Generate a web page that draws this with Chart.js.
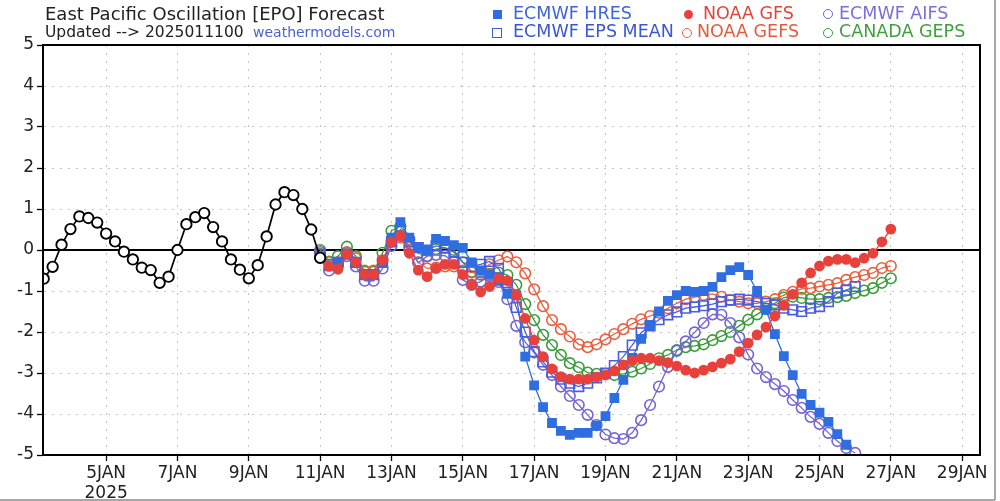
<!DOCTYPE html>
<html>
<head>
<meta charset="utf-8">
<script src="https://cdn.jsdelivr.net/npm/chart.js@4.4.1/dist/chart.umd.min.js"></script>
<style>
  body { margin: 0; background: #fff; font-family: "DejaVu Sans", sans-serif; }
  #wrap { position: relative; width: 1000px; height: 501px; overflow: hidden; }
  canvas { position: absolute; left: 0; top: 0; }
  .txt { position: absolute; white-space: nowrap; font-size: 17.5px; line-height: 20px; }
  .mk { position: absolute; box-sizing: border-box; }
</style>
</head>
<body>
<div id="wrap">
  <canvas id="epo" width="1000" height="501"></canvas>

  <div class="txt" style="left:45px; top:4px; font-size:18px; color:#222;">East Pacific Oscillation [EPO] Forecast</div>
  <div class="txt" style="left:45px; top:22px; font-size:15.5px; color:#222;">Updated --&gt; 2025011100 <span style="color:#4b5fd6; font-size:14px;">&nbsp;weathermodels.com</span></div>

  <!-- legend -->
  <div class="mk" style="left:493px; top:10px; width:9px; height:9px; background:#2f6ee0;"></div>
  <div class="txt" style="left:513px; top:3px; color:#3f65dc;">ECMWF HRES</div>
  <div class="mk" style="left:492px; top:28px; width:10px; height:10px; border:1.7px solid #4558de;"></div>
  <div class="txt" style="left:513px; top:21px; color:#3b57d4;">ECMWF EPS MEAN</div>

  <div class="mk" style="left:684px; top:10px; width:9px; height:9px; border-radius:50%; background:#e8413c;"></div>
  <div class="txt" style="left:703px; top:3px; color:#e0443a;">NOAA GFS</div>
  <div class="mk" style="left:682px; top:28px; width:10px; height:10px; border-radius:50%; border:1.7px solid #e8603f;"></div>
  <div class="txt" style="left:697px; top:21px; color:#e55a3c;">NOAA GEFS</div>

  <div class="mk" style="left:823px; top:9px; width:10px; height:10px; border-radius:50%; border:1.7px solid #7464d4;"></div>
  <div class="txt" style="left:839px; top:3px; color:#7b6fd6;">ECMWF AIFS</div>
  <div class="mk" style="left:823px; top:28px; width:10px; height:10px; border-radius:50%; border:1.7px solid #3b9b3b;"></div>
  <div class="txt" style="left:839px; top:21px; color:#3f9f3f;">CANADA GEPS</div>
</div>

<script>
// time axis: days of January 2025, one point every 6 hours
const step = 0.25;
const obsStart = 3.25;
const fcstStart = 11.0;
const xTicks = [5, 7, 9, 11, 13, 15, 17, 19, 21, 23, 25, 27, 29];
const yTicks = [-5, -4, -3, -2, -1, 0, 1, 2, 3, 4, 5];

// observed EPO (Jan 3 06z - Jan 11 00z)
const observed = [-0.70, -0.41, 0.13, 0.51, 0.82, 0.78, 0.67, 0.40, 0.21, -0.04, -0.23, -0.43,
  -0.49, -0.80, -0.65, 0.00, 0.63, 0.80, 0.90, 0.56, 0.21, -0.23, -0.48, -0.69,
  -0.37, 0.33, 1.11, 1.41, 1.34, 1.00, 0.50, -0.19];

// forecasts, from Jan 11 00z
const ecmwfHres = [-0.15, -0.4, -0.3, -0.1, -0.3, -0.6, -0.6, -0.3, 0.3, 0.68, 0.3, 0.05,
  0.0, 0.27, 0.22, 0.12, 0.05, -0.3, -0.5, -0.6, -0.75, -1.07, -1.1, -2.6,
  -3.3, -3.83, -4.22, -4.41, -4.51, -4.46, -4.46, -4.29, -4.05, -3.61, -3.17, -2.63,
  -2.17, -1.83, -1.5, -1.24, -1.1, -1.0, -1.02, -1.0, -0.9, -0.66, -0.49, -0.42,
  -0.61, -1.0, -1.46, -2.05, -2.59, -3.05, -3.51, -3.78, -3.97, -4.19, -4.49, -4.75];

const ecmwfEpsMean = [-0.1, -0.35, -0.3, -0.1, -0.3, -0.6, -0.6, -0.3, 0.2, 0.5, 0.2, 0.06,
  0.0, 0.1, 0.05, -0.05, -0.3, -0.4, -0.35, -0.28, -0.45, -0.8, -1.4, -2.0,
  -2.48, -2.73, -2.98, -3.15, -3.25, -3.33, -3.25, -3.12, -3.0, -2.82, -2.6, -2.32,
  -2.02, -1.85, -1.7, -1.58, -1.51, -1.42, -1.39, -1.36, -1.32, -1.26, -1.22, -1.2,
  -1.22, -1.26, -1.3, -1.34, -1.42, -1.46, -1.5, -1.42, -1.38, -1.26, -1.05, -0.98, -0.89];

const noaaGfs = [-0.2, -0.4, -0.47, -0.1, -0.3, -0.6, -0.6, -0.25, 0.2, 0.35, -0.08, -0.49,
  -0.65, -0.45, -0.35, -0.35, -0.6, -0.85, -1.02, -0.89, -0.7, -0.75, -1.1, -1.67,
  -2.2, -2.6, -2.9, -3.09, -3.15, -3.15, -3.15, -3.1, -3.05, -2.95, -2.8, -2.7,
  -2.64, -2.64, -2.7, -2.75, -2.83, -2.93, -3.0, -2.93, -2.85, -2.76, -2.66, -2.48,
  -2.27, -2.07, -1.88, -1.61, -1.35, -1.08, -0.8, -0.56, -0.39, -0.27, -0.23, -0.23,
  -0.31, -0.2, -0.08, 0.2, 0.51];

const noaaGefs = [-0.1, -0.3, -0.3, -0.05, -0.2, -0.5, -0.5, -0.25, 0.2, 0.3, 0.0, -0.3,
  -0.45, -0.43, -0.4, -0.4, -0.5, -0.55, -0.55, -0.35, -0.25, -0.16, -0.3, -0.57,
  -0.96, -1.37, -1.71, -1.93, -2.11, -2.3, -2.37, -2.3, -2.18, -2.05, -1.93, -1.8,
  -1.69, -1.61, -1.53, -1.42, -1.3, -1.2, -1.15, -1.1, -1.07, -1.14, -1.22, -1.26,
  -1.3, -1.3, -1.26, -1.2, -1.1, -1.02, -0.95, -0.93, -0.89, -0.85, -0.81, -0.73,
  -0.66, -0.61, -0.56, -0.44, -0.39];

const ecmwfAifs = [-0.05, -0.5, -0.37, -0.15, -0.4, -0.75, -0.75, -0.45, 0.1, 0.34, 0.08, -0.31,
  -0.15, -0.12, -0.14, -0.3, -0.73, -0.85, -0.77, -0.63, -0.78, -1.2, -1.85, -2.25,
  -2.5, -2.8, -3.05, -3.33, -3.56, -3.78, -4.02, -4.27, -4.5, -4.59, -4.61, -4.46,
  -4.15, -3.78, -3.33, -2.85, -2.46, -2.23, -2.01, -1.78, -1.57, -1.58, -1.78, -2.13,
  -2.55, -2.89, -3.1, -3.27, -3.44, -3.66, -3.85, -4.07, -4.24, -4.46, -4.66, -4.83, -4.95];

const canadaGeps = [0.0, -0.28, -0.15, 0.08, -0.15, -0.53, -0.53, -0.07, 0.47, 0.58, 0.26, -0.08,
  -0.15, 0.02, 0.05, 0.0, -0.3, -0.53, -0.6, -0.58, -0.55, -0.61, -0.85, -1.32,
  -1.71, -2.07, -2.32, -2.56, -2.76, -2.86, -2.99, -3.02, -3.02, -3.05, -3.02, -2.97,
  -2.89, -2.78, -2.64, -2.56, -2.44, -2.37, -2.34, -2.3, -2.2, -2.1, -2.0, -1.85,
  -1.7, -1.57, -1.43, -1.3, -1.16, -1.14, -1.17, -1.2, -1.2, -1.17, -1.15, -1.12,
  -1.05, -0.99, -0.93, -0.8, -0.69];

function toPoints(start, vals) {
  return vals.map((v, i) => ({ x: start + i * step, y: v }));
}

function series(label, start, vals, color, style, filled, radius) {
  return {
    label: label,
    data: toPoints(start, vals),
    borderColor: color,
    borderWidth: 1.3,
    pointStyle: style,
    pointRadius: radius,
    pointBorderWidth: 1.6,
    pointBorderColor: color,
    pointBackgroundColor: filled ? color : 'rgba(255,255,255,0)',
    tension: 0
  };
}

// zero line under the data, plot box and outer frame on top
const framePlugin = {
  id: 'frame',
  beforeDatasetsDraw(chart) {
    const { ctx, chartArea: a, scales } = chart;
    const y0 = scales.y.getPixelForValue(0);
    ctx.save();
    ctx.strokeStyle = '#000';
    ctx.lineWidth = 2;
    ctx.beginPath();
    ctx.moveTo(a.left, y0);
    ctx.lineTo(a.right, y0);
    ctx.stroke();
    ctx.restore();
  },
  afterDraw(chart) {
    const { ctx, chartArea: a } = chart;
    ctx.save();
    ctx.strokeStyle = '#000';
    ctx.lineWidth = 2;
    ctx.strokeRect(a.left, a.top, a.right - a.left, a.bottom - a.top);
    ctx.strokeStyle = '#8a8a8a';
    ctx.lineWidth = 1.5;
    ctx.beginPath();
    ctx.moveTo(995, 0);
    ctx.lineTo(995, 500);
    ctx.moveTo(0, 500);
    ctx.lineTo(995, 500);
    ctx.stroke();
    ctx.restore();
  }
};

const ctx = document.getElementById('epo').getContext('2d');
const epoChart = new Chart(ctx, {
  type: 'line',
  data: {
    datasets: [
      {
        label: 'Observed',
        data: toPoints(obsStart, observed),
        borderColor: '#000',
        borderWidth: 1.7,
        pointRadius: 5.2,
        pointBorderWidth: 1.9,
        pointBorderColor: '#000',
        pointBackgroundColor: '#fff',
        tension: 0
      },
      series('NOAA GFS', fcstStart, noaaGfs, '#e8413c', 'circle', true, 4.6),
      series('ECMWF HRES', fcstStart, ecmwfHres, '#2f6ee0', 'rect', true, 5.8),
      series('ECMWF EPS MEAN', fcstStart, ecmwfEpsMean, '#4a5ce0', 'rect', false, 6.8),
      series('ECMWF AIFS', fcstStart, ecmwfAifs, '#7464d4', 'circle', false, 5.3),
      series('NOAA GEFS', fcstStart, noaaGefs, '#e8603f', 'circle', false, 5.3),
      series('CANADA GEPS', fcstStart, canadaGeps, '#3b9b3b', 'circle', false, 5.3)
    ]
  },
  options: {
    responsive: false,
    animation: false,
    layout: { padding: { top: 45, right: 20, left: 0, bottom: 0 } },
    plugins: { legend: { display: false }, tooltip: { enabled: false } },
    scales: {
      x: {
        type: 'linear',
        min: 3.23,
        max: 29.5,
        afterFit: s => { s.height = 46; },
        afterBuildTicks: s => { s.ticks = xTicks.map(v => ({ value: v })); },
        ticks: {
          autoSkip: false,
          maxRotation: 0,
          padding: 2,
          color: '#222',
          font: { family: 'DejaVu Sans', size: 17 },
          callback: v => (v === 5 ? [v + 'JAN', '2025'] : v + 'JAN')
        },
        grid: { color: '#c4c4c4', lineWidth: 1, tickLength: 6, tickColor: '#000', tickWidth: 1.3 },
        border: { display: true, color: '#000', width: 2, dash: [2, 6] }
      },
      y: {
        min: -5,
        max: 5,
        afterFit: s => { s.width = 43; },
        afterBuildTicks: s => { s.ticks = yTicks.map(v => ({ value: v })); },
        ticks: {
          padding: 3,
          color: '#222',
          font: { family: 'DejaVu Sans', size: 17 }
        },
        grid: { color: '#c4c4c4', lineWidth: 1, tickLength: 6, tickColor: '#000', tickWidth: 1.3 },
        border: { display: true, color: '#000', width: 2, dash: [2, 6] }
      }
    }
  },
  plugins: [framePlugin]
});
</script>
</body>
</html>
